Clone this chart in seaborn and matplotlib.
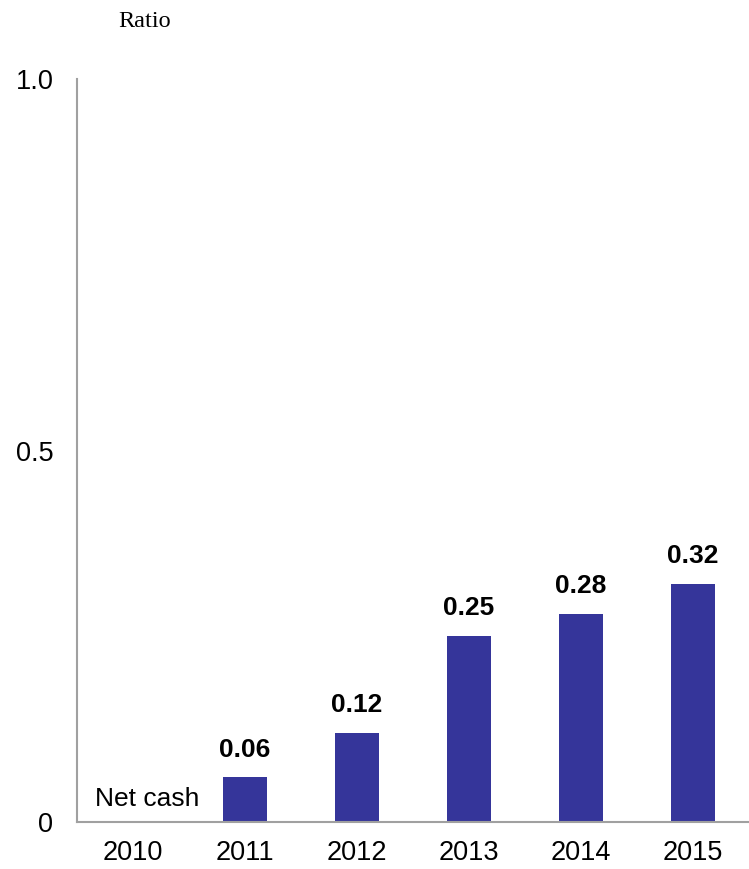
import matplotlib
matplotlib.use('Agg')
import matplotlib.pyplot as plt
import seaborn as sns
import pandas as pd

years = ['2010', '2011', '2012', '2013', '2014', '2015']
ratios = [0.0, 0.06, 0.12, 0.25, 0.28, 0.32]
value_labels = ['', '0.06', '0.12', '0.25', '0.28', '0.32']
y_ticks = [0, 0.5, 1.0]
y_tick_labels = ['0', '0.5', '1.0']

sns.set_theme(style='white')
plt.rcParams['font.family'] = ['Liberation Sans', 'DejaVu Sans']
plt.rcParams['text.color'] = 'black'

df = pd.DataFrame({'year': years, 'ratio': ratios})

fig = plt.figure(figsize=(7.49, 8.69), dpi=100)
ax = fig.add_axes([0.1028, 0.0541, 0.8972, 0.8549])

sns.barplot(data=df, x='year', y='ratio', order=years, color='#35359a',
            width=0.4, linewidth=0, saturation=1, ax=ax)

ax.set_xlim(-0.5, 5.5)
ax.set_ylim(0, 1.0)
ax.set_yticks(y_ticks)
ax.set_yticklabels(y_tick_labels)
ax.set_xlabel('')
ax.set_ylabel('')
ax.tick_params(axis='both', length=0, labelsize=19.5, colors='black')
ax.tick_params(axis='x', pad=13)
ax.tick_params(axis='y', pad=17)

for side in ['top', 'right']:
    ax.spines[side].set_visible(False)
for side in ['left', 'bottom']:
    ax.spines[side].set_color('#a0a0a0')
    ax.spines[side].set_linewidth(1.5)

# value labels above bars
for i, (val, lab) in enumerate(zip(ratios, value_labels)):
    if lab:
        ax.annotate(lab, (i, val), xytext=(0, 15), textcoords='offset points',
                    ha='center', va='baseline', fontsize=19, fontweight='bold',
                    color='black')

ax.text(-0.34, 0.022, 'Net cash', ha='left', va='baseline', fontsize=19,
        color='black')

fig.text(118 / 749, 1 - 27 / 869, 'Ratio', ha='left', va='baseline',
         fontsize=17.5, color='black', family=['Liberation Serif', 'DejaVu Serif'])

fig.savefig('out.png', dpi=100)
